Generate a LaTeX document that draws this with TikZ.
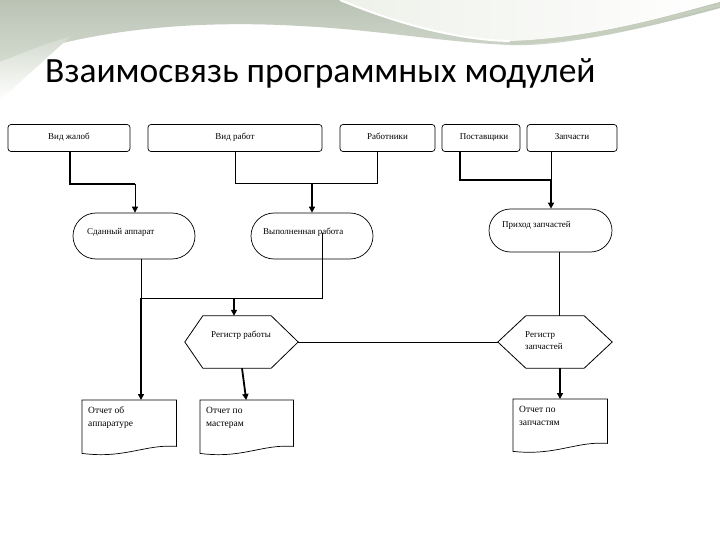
\documentclass[tikz,border=0pt]{standalone}
\usepackage{fontspec}
\setmainfont{Liberation Serif}
\newfontfamily\titlefont{Carlito}
\usetikzlibrary{shapes.misc,arrows.meta}
\definecolor{bgA}{HTML}{B9C3B4}
\definecolor{bgB}{HTML}{D3DACE}
\definecolor{bgC}{HTML}{EEF1EA}
\definecolor{bgD}{HTML}{C6CEBE}
\tikzset{
  box/.style={draw,rounded corners=3pt,minimum height=27pt,inner sep=0pt,line width=0.7pt},
  stad/.style={draw,rounded rectangle,minimum height=46pt,inner sep=0pt,line width=0.7pt},
  hexa/.style={minimum height=52pt,inner sep=0pt},
  lbl/.style={font=\fontsize{9}{10}\selectfont,inner sep=0pt,anchor=base},
  doclbl/.style={font=\fontsize{9.5}{13}\selectfont,inner sep=0pt,align=left,anchor=base west},
  thn/.style={line width=0.8pt},
  thk/.style={line width=1.8pt},
  arr/.style={-{Triangle[length=6pt,width=6pt]}},
  docfr/.style={line width=0.7pt},
}
\begin{document}
\begin{tikzpicture}[x=1pt,y=-1pt]
\useasboundingbox (0,0) rectangle (720,540);
\fill[white] (0,0) rectangle (720,540);
% background decoration
\shade[top color=bgA,bottom color=bgB] (0,0) -- (720,0) -- (720,8) .. controls (640,30) and (560,47) .. (510,45) .. controls (440,42) and (380,30) .. (300,26) .. controls (200,20) and (90,28) .. (0,62) -- cycle;
\shade[top color=bgB,bottom color=white] (0,62) .. controls (30,50) and (50,42) .. (70,37) -- (0,100) -- cycle;
\shade[left color=bgC,right color=white] (340,0) .. controls (400,25) and (460,40) .. (510,41) .. controls (600,38) and (680,12) .. (720,2) -- (720,0) -- cycle;
\draw[white,line width=2pt] (340,0) .. controls (400,25) and (460,40) .. (510,41);
\draw[bgD,line width=3pt] (510,43) .. controls (600,40) and (680,14) .. (720,5);
% title
\node[anchor=base west,inner sep=0pt,font=\titlefont\fontsize{35.5}{40}\selectfont] (title) at (45,83) {Взаимосвязь программных модулей};
% top boxes
\node[box,minimum width=122pt] (vz) at (69,138) {};
\node[lbl] (tvz) at (69,140) {Вид жалоб};
\node[box,minimum width=174pt] (vr) at (235,138) {};
\node[lbl] (tvr) at (235,140) {Вид работ};
\node[box,minimum width=95pt] (rab) at (387.5,138) {};
\node[lbl] (trab) at (387.5,140) {Работники};
\node[box,minimum width=78pt] (post) at (481,138) {};
\node[lbl] (tpost) at (484,140) {Поставщики};
\node[box,minimum width=90pt] (zap) at (572,138) {};
\node[lbl] (tzap) at (572,140) {Запчасти};
% stadiums
\node[stad,minimum width=122pt] (sa) at (134,236) {};
\node[lbl,anchor=base west] (tsa) at (87,235) {Сданный аппарат};
\node[stad,minimum width=122pt] (vrab) at (312,236) {};
\node[lbl,anchor=base west] (tvrab) at (263,235) {Выполненная работа};
\node[stad,minimum width=123pt,minimum height=43pt] (pz) at (550.5,230.5) {};
\node[lbl,anchor=base west] (tpz) at (502,228) {Приход запчастей};
% hexagons
\node[hexa,minimum width=113pt] (rr) at (241.5,342) {};
\draw[thn] (rr.west) -- ([xshift=18pt]rr.north west) -- ([xshift=-27pt]rr.north east) -- (rr.east) -- ([xshift=-27pt]rr.south east) -- ([xshift=18pt]rr.south west) -- cycle;
\node[lbl,anchor=base west] (trr) at (211,337) {Регистр работы};
\node[hexa,minimum width=114pt] (rz) at (555,342) {};
\draw[thn] (rz.west) -- ([xshift=28pt]rz.north west) -- ([xshift=-28pt]rz.north east) -- (rz.east) -- ([xshift=-28pt]rz.south east) -- ([xshift=28pt]rz.south west) -- cycle;
\node[lbl,anchor=base west,align=left,font=\fontsize{9}{12}\selectfont] (trz) at (525,349) {Регистр\\запчастей};
% documents
\node[minimum width=94pt,minimum height=46pt,inner sep=0pt,anchor=north west] (d1) at (82,400) {};
\draw[docfr] (d1.south west) |- (d1.north east) -- (d1.south east) .. controls (145,444) and (125,459) .. ([yshift=-7pt]d1.south west) -- cycle;
\node[doclbl] (td1) at (88,426) {Отчет об\\аппаратуре};
\node[minimum width=93pt,minimum height=46pt,inner sep=0pt,anchor=north west] (d2) at (200,400) {};
\draw[docfr] (d2.south west) |- (d2.north east) -- (d2.south east) .. controls (262,444) and (242,459) .. ([yshift=-7pt]d2.south west) -- cycle;
\node[doclbl] (td2) at (206,426) {Отчет по\\мастерам};
\node[minimum width=94pt,minimum height=44pt,inner sep=0pt,anchor=north west] (d3) at (513,399) {};
\draw[docfr] (d3.south west) |- (d3.north east) -- (d3.south east) .. controls (576,441) and (556,456) .. ([yshift=-8pt]d3.south west) -- cycle;
\node[doclbl] (td3) at (519,425) {Отчет по\\запчастям};
% connectors
\coordinate (j0) at (70,184);
\draw[thk] (vz.south -| j0) -- (j0) -- (135,184) coordinate (j0b);
\draw[thn,arr] (j0b) -- (j0b |- sa.north);
\coordinate (j1) at (312,183);
\draw[thn] (vr.south) |- (j1);
\draw[thn] ([xshift=-10pt]rab.south) |- (j1);
\draw[thk,arr] (j1) -- (j1 |- vrab.north);
\coordinate (j2) at (551,180);
\draw[thk] ([xshift=-91pt]j2 |- post.south) |- (j2);
\draw[thn] (j2 |- zap.south) -- (j2);
\draw[thk,arr] (j2) -- (j2 |- pz.north);
\coordinate (j3) at (141,298);
\coordinate (j4) at (234,298);
\draw[thn] (j3 |- sa.south) -- (j3);
\draw[thn] (322,233) coordinate (vs) -- (vs |- j3) -- (j3);
\draw[thk,arr] (j3) -- (j3 |- d1.north);
\draw[thk,arr] (j4) -- (j4 |- rr.north);
\draw[thn] (rr.east) -- (rz.west);
\draw[thn] ([xshift=8.5pt]pz.south) -- ([xshift=8.5pt]pz.south |- rz.north);
\draw[thk,arr] ([xshift=0.5pt]rr.south) -- ([xshift=-0.5pt]d2.north);
\draw[thk,arr] ([xshift=5pt]rz.south) -- ([xshift=5pt]rz.south |- d3.north);
\end{tikzpicture}
\end{document}
